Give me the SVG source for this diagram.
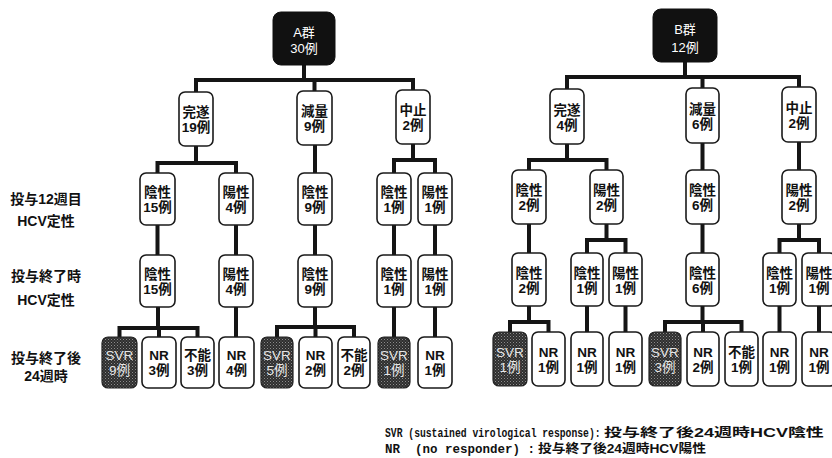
<svg xmlns="http://www.w3.org/2000/svg" width="832" height="458" viewBox="0 0 832 458">
<style>
.n{fill:#fff;stroke:#1a1a1a;stroke-width:1.6}
.s{fill:url(#dots);stroke:#222;stroke-width:1.2}
.r{fill:#111;stroke:#111}
.t{font-family:"Liberation Sans","Noto Sans CJK JP",sans-serif;font-size:13.5px;font-weight:bold;fill:#111;text-anchor:middle}
.ts{font-family:"Liberation Sans","Noto Sans CJK JP",sans-serif;font-size:13.5px;fill:#e6e6e6;text-anchor:middle}
.tr{font-family:"Liberation Sans","Noto Sans CJK JP",sans-serif;font-size:13px;fill:#fff;text-anchor:middle}
.lb{font-family:"Liberation Sans","Noto Sans CJK JP",sans-serif;font-size:14px;font-weight:bold;fill:#111;text-anchor:middle}
.c{fill:none;stroke:#151515;stroke-width:4;stroke-linejoin:miter;stroke-linecap:butt}
.lg{font-family:"Liberation Mono",monospace;font-size:12.5px;font-weight:bold;fill:#111;white-space:pre}
.cj{font-family:"Liberation Sans","Noto Sans CJK JP",sans-serif;font-size:12.5px;font-weight:bold;fill:#111}
</style>
<defs>
<pattern id="dots" width="3" height="3" patternUnits="userSpaceOnUse">
<rect width="3" height="3" fill="#2e2e2e"/>
<rect width="1" height="1" fill="#8c8c8c"/>
<rect x="1.5" y="1.5" width="1" height="1" fill="#6a6a6a"/>
</pattern>
</defs>
<rect width="832" height="458" fill="#fff"/>

<g id="connectors">
<path class="c" d="M196 92 V80 H413 V90 M304 65 V80 M314.5 80 V91"/>
<path class="c" d="M196 146 V163 M157.5 173 V163 H236 V173"/>
<path class="c" d="M315 145 V173"/>
<path class="c" d="M413 144 V160 M394 173 V160 H435 V173"/>
<path class="c" d="M157.5 225 V255 M236 225 V255 M315 225 V255 M394 225 V255 M435 225 V255"/>
<path class="c" d="M158 307 V328 M119.5 337 V328 H197.5 V337 M159 328 V337"/>
<path class="c" d="M236 307 V337"/>
<path class="c" d="M315 307 V327 M277 337 V327 H354 V337 M315.5 327 V337"/>
<path class="c" d="M394 307 V337 M435 307 V337"/>
<path class="c" d="M567 89 V77 H799 V87 M685 62 V77 M702.5 77 V88"/>
<path class="c" d="M567 144 V160 M529 170 V160 H606.5 V170"/>
<path class="c" d="M702.5 143 V170 M799 142 V170"/>
<path class="c" d="M529 224 V253 M606.5 224 V240 M587 253 V240 H625.5 V253 M702.5 224 V253 M799 224 V240 M779.5 253 V240 H819 V253"/>
<path class="c" d="M529 306 V322 M510 332 V322 H548.5 V332 M587 306 V332 M625.5 306 V332 M702.5 306 V322 M665 332 V322 H741.5 V332 M703 322 V332 M779.5 306 V332 M819 306 V332"/>
</g>

<g id="labels">
<text class="lb" x="46" y="204">投与12週目</text>
<text class="lb" x="46" y="226">HCV定性</text>
<text class="lb" x="46" y="281">投与終了時</text>
<text class="lb" x="46" y="305">HCV定性</text>
<text class="lb" x="46" y="363">投与終了後</text>
<text class="lb" x="46" y="381">24週時</text>
</g>

<!-- A group -->
<g id="A-root"><rect class="r" x="273" y="12" width="62" height="53" rx="8"/><text class="tr" x="304" y="37">A群</text><text class="tr" x="304" y="53">30例</text></g>
<g id="A-kansui"><rect class="n" x="179" y="92" width="34" height="54" rx="6"/><text class="t" x="196" y="117">完遂</text><text class="t" x="196" y="132">19例</text></g>
<g id="A-genryo"><rect class="n" x="297" y="91" width="35" height="54" rx="6"/><text class="t" x="314.5" y="116">減量</text><text class="t" x="314.5" y="131">9例</text></g>
<g id="A-chushi"><rect class="n" x="396" y="90" width="34" height="54" rx="6"/><text class="t" x="413" y="115">中止</text><text class="t" x="413" y="130">2例</text></g>

<g id="A-w12-neg15"><rect class="n" x="140" y="173" width="35" height="52" rx="6"/><text class="t" x="157.5" y="197">陰性</text><text class="t" x="157.5" y="212">15例</text></g>
<g id="A-w12-pos4"><rect class="n" x="219" y="173" width="34" height="52" rx="6"/><text class="t" x="236" y="197">陽性</text><text class="t" x="236" y="212">4例</text></g>
<g id="A-w12-neg9"><rect class="n" x="298" y="173" width="34" height="52" rx="6"/><text class="t" x="315" y="197">陰性</text><text class="t" x="315" y="212">9例</text></g>
<g id="A-w12-neg1"><rect class="n" x="377" y="173" width="34" height="52" rx="6"/><text class="t" x="394" y="197">陰性</text><text class="t" x="394" y="212">1例</text></g>
<g id="A-w12-pos1"><rect class="n" x="418" y="173" width="34" height="52" rx="6"/><text class="t" x="435" y="197">陽性</text><text class="t" x="435" y="212">1例</text></g>

<g id="A-end-neg15"><rect class="n" x="140" y="255" width="35" height="52" rx="6"/><text class="t" x="157.5" y="279">陰性</text><text class="t" x="157.5" y="294">15例</text></g>
<g id="A-end-pos4"><rect class="n" x="219" y="255" width="34" height="52" rx="6"/><text class="t" x="236" y="279">陽性</text><text class="t" x="236" y="294">4例</text></g>
<g id="A-end-neg9"><rect class="n" x="298" y="255" width="34" height="52" rx="6"/><text class="t" x="315" y="279">陰性</text><text class="t" x="315" y="294">9例</text></g>
<g id="A-end-neg1"><rect class="n" x="377" y="255" width="34" height="52" rx="6"/><text class="t" x="394" y="279">陰性</text><text class="t" x="394" y="294">1例</text></g>
<g id="A-end-pos1"><rect class="n" x="418" y="255" width="34" height="52" rx="6"/><text class="t" x="435" y="279">陽性</text><text class="t" x="435" y="294">1例</text></g>

<g id="A-24-svr9"><rect class="s" x="102" y="337" width="35" height="51" rx="6"/><text class="ts" x="119.5" y="359.5">SVR</text><text class="ts" x="119.5" y="374.5">9例</text></g>
<g id="A-24-nr3"><rect class="n" x="142" y="337" width="34" height="51" rx="6"/><text class="t" x="159" y="359.5">NR</text><text class="t" x="159" y="374.5">3例</text></g>
<g id="A-24-fn3"><rect class="n" x="181" y="337" width="33" height="51" rx="6"/><text class="t" x="197.5" y="359.5">不能</text><text class="t" x="197.5" y="374.5">3例</text></g>
<g id="A-24-nr4"><rect class="n" x="219" y="337" width="35" height="51" rx="6"/><text class="t" x="236.5" y="359.5">NR</text><text class="t" x="236.5" y="374.5">4例</text></g>
<g id="A-24-svr5"><rect class="s" x="261" y="337" width="32" height="51" rx="6"/><text class="ts" x="277" y="359.5">SVR</text><text class="ts" x="277" y="374.5">5例</text></g>
<g id="A-24-nr2"><rect class="n" x="299" y="337" width="33" height="51" rx="6"/><text class="t" x="315.5" y="359.5">NR</text><text class="t" x="315.5" y="374.5">2例</text></g>
<g id="A-24-fn2"><rect class="n" x="338" y="337" width="32" height="51" rx="6"/><text class="t" x="354" y="359.5">不能</text><text class="t" x="354" y="374.5">2例</text></g>
<g id="A-24-svr1"><rect class="s" x="378" y="337" width="32" height="51" rx="6"/><text class="ts" x="394" y="359.5">SVR</text><text class="ts" x="394" y="374.5">1例</text></g>
<g id="A-24-nr1"><rect class="n" x="418" y="337" width="34" height="51" rx="6"/><text class="t" x="435" y="359.5">NR</text><text class="t" x="435" y="374.5">1例</text></g>

<!-- B group -->
<g id="B-root"><rect class="r" x="653" y="9" width="64" height="53" rx="8"/><text class="tr" x="685" y="34">B群</text><text class="tr" x="685" y="52">12例</text></g>
<g id="B-kansui"><rect class="n" x="550" y="89" width="34" height="55" rx="6"/><text class="t" x="567" y="114.5">完遂</text><text class="t" x="567" y="129.5">4例</text></g>
<g id="B-genryo"><rect class="n" x="686" y="88" width="33" height="55" rx="6"/><text class="t" x="702.5" y="113.5">減量</text><text class="t" x="702.5" y="128.5">6例</text></g>
<g id="B-chushi"><rect class="n" x="782" y="87" width="34" height="55" rx="6"/><text class="t" x="799" y="112.5">中止</text><text class="t" x="799" y="127.5">2例</text></g>

<g id="B-w12-neg2"><rect class="n" x="512" y="170" width="34" height="54" rx="6"/><text class="t" x="529" y="195">陰性</text><text class="t" x="529" y="210">2例</text></g>
<g id="B-w12-pos2"><rect class="n" x="590" y="170" width="33" height="54" rx="6"/><text class="t" x="606.5" y="195">陽性</text><text class="t" x="606.5" y="210">2例</text></g>
<g id="B-w12-neg6"><rect class="n" x="686" y="170" width="33" height="54" rx="6"/><text class="t" x="702.5" y="195">陰性</text><text class="t" x="702.5" y="210">6例</text></g>
<g id="B-w12-pos2b"><rect class="n" x="782" y="170" width="34" height="54" rx="6"/><text class="t" x="799" y="195">陽性</text><text class="t" x="799" y="210">2例</text></g>

<g id="B-end-neg2"><rect class="n" x="512" y="253" width="34" height="53" rx="6"/><text class="t" x="529" y="277.5">陰性</text><text class="t" x="529" y="292.5">2例</text></g>
<g id="B-end-neg1a"><rect class="n" x="571" y="253" width="32" height="53" rx="6"/><text class="t" x="587" y="277.5">陰性</text><text class="t" x="587" y="292.5">1例</text></g>
<g id="B-end-pos1a"><rect class="n" x="609" y="253" width="33" height="53" rx="6"/><text class="t" x="625.5" y="277.5">陽性</text><text class="t" x="625.5" y="292.5">1例</text></g>
<g id="B-end-neg6"><rect class="n" x="686" y="253" width="33" height="53" rx="6"/><text class="t" x="702.5" y="277.5">陰性</text><text class="t" x="702.5" y="292.5">6例</text></g>
<g id="B-end-neg1b"><rect class="n" x="763" y="253" width="33" height="53" rx="6"/><text class="t" x="779.5" y="277.5">陰性</text><text class="t" x="779.5" y="292.5">1例</text></g>
<g id="B-end-pos1b"><rect class="n" x="802" y="253" width="34" height="53" rx="6"/><text class="t" x="819" y="277.5">陽性</text><text class="t" x="819" y="292.5">1例</text></g>

<g id="B-24-svr1"><rect class="s" x="493" y="332" width="34" height="54" rx="6"/><text class="ts" x="510" y="357">SVR</text><text class="ts" x="510" y="372">1例</text></g>
<g id="B-24-nr1a"><rect class="n" x="532" y="332" width="33" height="54" rx="6"/><text class="t" x="548.5" y="357">NR</text><text class="t" x="548.5" y="372">1例</text></g>
<g id="B-24-nr1b"><rect class="n" x="571" y="332" width="32" height="54" rx="6"/><text class="t" x="587" y="357">NR</text><text class="t" x="587" y="372">1例</text></g>
<g id="B-24-nr1c"><rect class="n" x="609" y="332" width="33" height="54" rx="6"/><text class="t" x="625.5" y="357">NR</text><text class="t" x="625.5" y="372">1例</text></g>
<g id="B-24-svr3"><rect class="s" x="649" y="332" width="32" height="54" rx="6"/><text class="ts" x="665" y="357">SVR</text><text class="ts" x="665" y="372">3例</text></g>
<g id="B-24-nr2"><rect class="n" x="687" y="332" width="32" height="54" rx="6"/><text class="t" x="703" y="357">NR</text><text class="t" x="703" y="372">2例</text></g>
<g id="B-24-fn1"><rect class="n" x="725" y="332" width="33" height="54" rx="6"/><text class="t" x="741.5" y="357">不能</text><text class="t" x="741.5" y="372">1例</text></g>
<g id="B-24-nr1d"><rect class="n" x="763" y="332" width="33" height="54" rx="6"/><text class="t" x="779.5" y="357">NR</text><text class="t" x="779.5" y="372">1例</text></g>
<g id="B-24-nr1e"><rect class="n" x="802" y="332" width="34" height="54" rx="6"/><text class="t" x="819" y="357">NR</text><text class="t" x="819" y="372">1例</text></g>

<g id="legend">
<text class="lg" transform="translate(385 437) scale(0.777 1)">SVR (sustained virological response):</text>
<text class="cj" transform="translate(604 437) scale(1.44 1)">投与終了後24週時HCV陰性</text>
<text class="lg" transform="translate(385 453)">NR  (no responder) :</text>
<text class="cj" transform="translate(538 453) scale(1.1 1)">投与終了後24週時HCV陽性</text>
</g>
</svg>
